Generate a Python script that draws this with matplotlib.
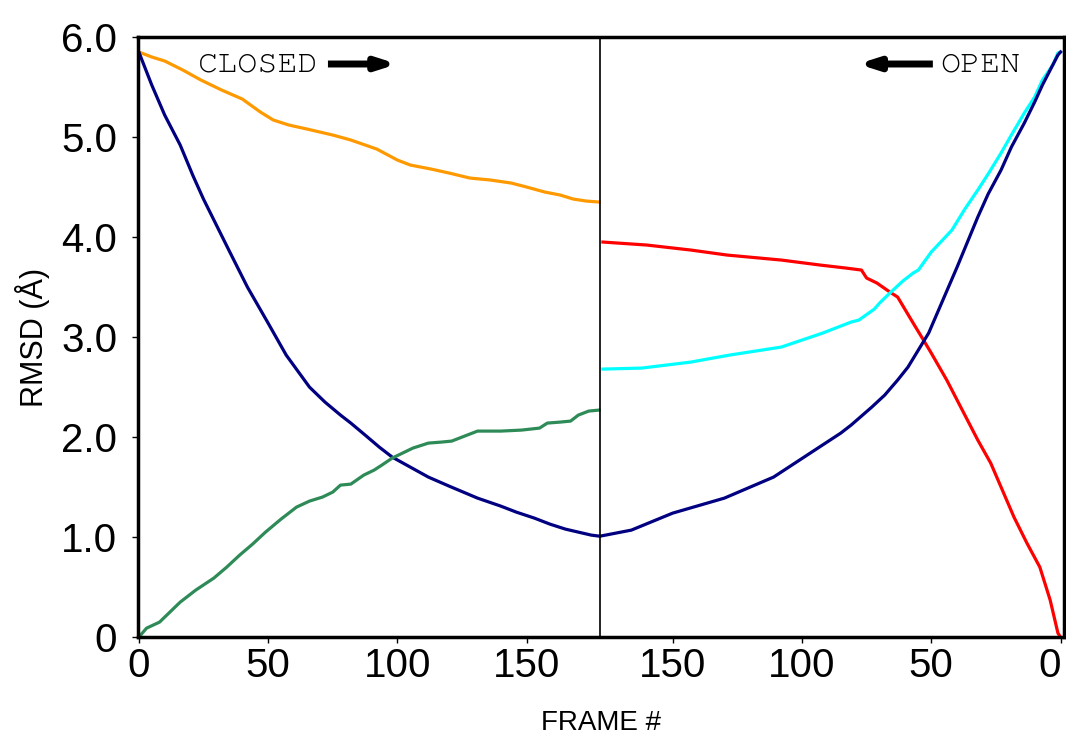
import matplotlib
matplotlib.use("Agg")
import matplotlib.pyplot as plt
from matplotlib import font_manager
import numpy as np

# left half: frames counted from the closed structure
orange_f = [0, 5, 10, 17, 24, 32, 40, 47, 52, 58, 65, 75, 82, 92, 100, 105, 113, 120, 128, 136, 144, 150, 157, 163, 168, 173, 178]
orange_v = [5.85, 5.80, 5.76, 5.67, 5.57, 5.47, 5.38, 5.25, 5.17, 5.12, 5.08, 5.02, 4.97, 4.88, 4.77, 4.72, 4.68, 4.64, 4.59, 4.57, 4.54, 4.50, 4.45, 4.42, 4.38, 4.36, 4.35]

navy_l_f = [0, 5, 10, 16, 21, 25, 30, 35, 42, 50, 57, 66, 72, 78, 82, 88, 93, 98, 105, 112, 120, 131, 140, 146, 153, 159, 165, 170, 175, 178]
navy_l_v = [5.85, 5.52, 5.22, 4.92, 4.61, 4.38, 4.12, 3.86, 3.50, 3.14, 2.82, 2.50, 2.35, 2.22, 2.14, 2.01, 1.90, 1.80, 1.70, 1.60, 1.51, 1.39, 1.31, 1.25, 1.19, 1.13, 1.08, 1.05, 1.02, 1.01]

green_f = [0, 3, 8, 12, 16, 22, 29, 34, 39, 44, 49, 55, 61, 66, 71, 75, 78, 82, 87, 91, 94, 98, 102, 106, 112, 117, 121, 124, 131, 140, 148, 155, 158, 163, 167, 170, 174, 178]
green_v = [0.0, 0.09, 0.15, 0.25, 0.35, 0.47, 0.59, 0.70, 0.82, 0.93, 1.05, 1.18, 1.30, 1.36, 1.40, 1.45, 1.52, 1.53, 1.62, 1.67, 1.72, 1.79, 1.84, 1.89, 1.94, 1.95, 1.96, 1.99, 2.06, 2.06, 2.07, 2.09, 2.14, 2.15, 2.16, 2.22, 2.26, 2.27]

# right half: frames counted from the open structure (axis runs backwards)
red_g = [177, 160, 143, 129, 108, 93, 83, 77, 75, 71, 66, 63, 60, 57, 53, 50, 44, 38, 32, 27, 23, 18, 13, 8, 4, 1, 0]
red_v = [3.95, 3.92, 3.87, 3.82, 3.77, 3.72, 3.69, 3.67, 3.59, 3.54, 3.45, 3.40, 3.27, 3.14, 2.97, 2.84, 2.57, 2.27, 1.97, 1.74, 1.50, 1.20, 0.94, 0.70, 0.37, 0.04, 0.0]

cyan_g = [177, 162, 143, 128, 108, 92, 81, 78, 72, 70, 66, 61, 57, 55, 50, 46, 42, 37, 32, 28, 23, 19, 14, 10, 7, 3, 1, 0]
cyan_v = [2.68, 2.69, 2.75, 2.82, 2.90, 3.04, 3.15, 3.17, 3.28, 3.34, 3.44, 3.56, 3.64, 3.67, 3.85, 3.96, 4.07, 4.28, 4.47, 4.63, 4.84, 5.02, 5.24, 5.40, 5.57, 5.72, 5.84, 5.85]

navy_r_g = [178, 166, 150, 130, 111, 98, 85, 81, 73, 68, 63, 59, 55, 51, 45, 40, 36, 32, 28, 23, 19, 14, 10, 7, 3, 1, 0]
navy_r_v = [1.01, 1.07, 1.24, 1.39, 1.60, 1.82, 2.04, 2.12, 2.30, 2.42, 2.57, 2.70, 2.87, 3.04, 3.40, 3.70, 3.95, 4.20, 4.43, 4.67, 4.90, 5.14, 5.35, 5.52, 5.72, 5.82, 5.85]

x_ticks = [0, 50, 100, 150]
y_ticks = [0, 1, 2, 3, 4, 5, 6]
y_ticklabels = ["0", "1.0", "2.0", "3.0", "4.0", "5.0", "6.0"]

split = 178.5      # position of the divider
n_right = 178      # frames in the right half


def right_x(g):
    return split + n_right - np.asarray(g, dtype=float)


plt.rcParams['font.family'] = ['Liberation Sans', 'DejaVu Sans']

# serif typewriter font for the direction labels, if one is around
installed = {f.name for f in font_manager.fontManager.ttflist}
mono = 'Liberation Mono'
for name in ['Courier New', 'Nimbus Mono PS', 'FreeMono', 'Courier 10 Pitch', 'Courier']:
    if name in installed:
        mono = name
        break

fig = plt.figure(figsize=(10.66, 7.40), dpi=100)
ax = fig.add_axes([0.1295, 0.139, 0.8690, 0.811])

lw = 2.3
ax.plot(orange_f, orange_v, color='#ff9900', lw=lw)
ax.plot(navy_l_f, navy_l_v, color='#000080', lw=lw)
ax.plot(green_f, green_v, color='#2e8b57', lw=lw)
ax.plot(right_x(red_g), red_v, color='#ff0000', lw=lw)
ax.plot(right_x(cyan_g), cyan_v, color='#00ffff', lw=lw)
ax.plot(right_x(navy_r_g), navy_r_v, color='#000080', lw=lw)

ax.axvline(split, color='black', lw=1.2)

ax.set_xlim(-0.3, split + n_right + 1.5)
ax.set_ylim(0, 6.0)

ticks = list(x_ticks) + list(right_x(x_ticks[::-1]))
labels = [str(t) for t in x_ticks] + [str(t) for t in x_ticks[::-1]]
ax.set_xticks(ticks)
ax.set_xticklabels(labels)
ax.set_yticks(y_ticks)
ax.set_yticklabels(y_ticklabels)

ax.tick_params(axis='both', labelsize=29, length=4, width=1, direction='out')
ax.tick_params(axis='y', pad=11)
ax.tick_params(axis='x', pad=3)
# last label sits against the right edge
ax.get_xticklabels()[-1].set_ha('right')

for s in ax.spines.values():
    s.set_linewidth(2.5)

ax.set_xlabel("FRAME #", fontsize=20, labelpad=18)
ax.set_ylabel("RMSD (Å)", fontsize=22, labelpad=8)

# direction labels
arrow = dict(arrowstyle='-|>,head_length=1.1,head_width=0.35', lw=5, color='black',
             capstyle='butt')
ax.text(0.0648, 0.955, "CLOSED", transform=ax.transAxes, family=mono,
        fontsize=24, ha='left', va='center')
ax.annotate('', xy=(0.283, 0.955), xytext=(0.202, 0.955), xycoords='axes fraction',
            arrowprops=arrow)
ax.text(0.9525, 0.955, "OPEN", transform=ax.transAxes, family=mono,
        fontsize=24, ha='right', va='center')
ax.annotate('', xy=(0.774, 0.955), xytext=(0.861, 0.955), xycoords='axes fraction',
            arrowprops=arrow)

fig.savefig("out.png", dpi=100)
